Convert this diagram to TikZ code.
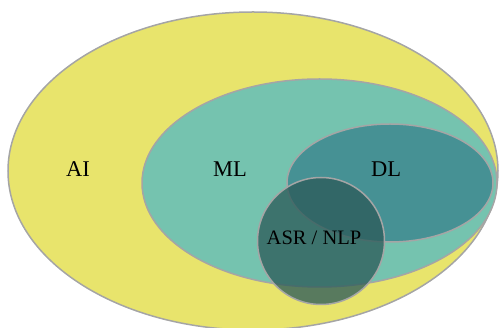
\documentclass[tikz,border=0pt]{standalone}
\usepackage{fontspec}
\setmainfont{Liberation Serif}
\definecolor{aiyellow}{RGB}{232,228,108}
\definecolor{mlteal}{RGB}{117,195,175}
\definecolor{dlteal}{RGB}{70,145,148}
\definecolor{asrgreen}{RGB}{45,91,90}
\definecolor{rimgray}{RGB}{165,165,165}
\tikzset{
  rim/.style={draw=rimgray, line width=1.5pt},
  setlabel/.style={font=\fontsize{22.5}{26}\selectfont, text=black, inner sep=0pt},
}
\begin{document}
\begin{tikzpicture}[x=1pt, y=-1pt]
\useasboundingbox (0,0) rectangle (501,328);
% nested sets
\path[rim, fill=aiyellow] (253,171) ellipse [x radius=245, y radius=159];
\path[rim, fill=mlteal] (319.5,183) ellipse [x radius=177.5, y radius=104];
\path[rim, fill=dlteal] (390,183) ellipse [x radius=103, y radius=59];
% translucent application circle
\path[fill=asrgreen, fill opacity=0.77] (321,241) circle [radius=63.5];
\draw[rimgray, line width=1.5pt] (321,241) circle [radius=63.5];
% labels
\node[setlabel] (ai) at (78,169) {AI};
\node[setlabel] (ml) at (230,169) {ML};
\node[setlabel] (dl) at (386,169) {DL};
\node[setlabel, font=\fontsize{20.5}{24}\selectfont] (asr) at (314,238) {ASR / NLP};
\end{tikzpicture}
\end{document}
